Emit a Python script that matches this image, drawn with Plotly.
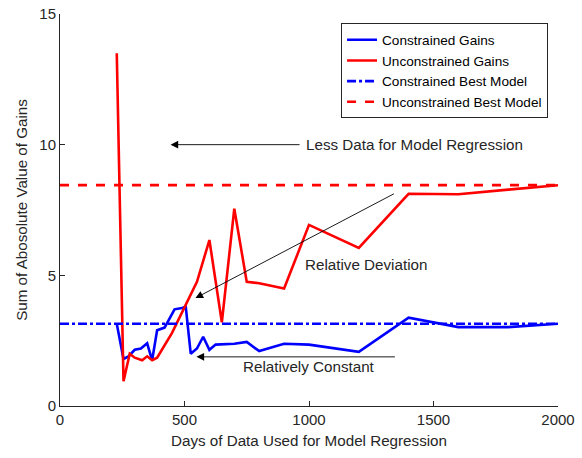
import plotly.graph_objects as go

# Data (days of data used, sum of absolute gains)
days_con = [228, 255, 275, 300, 325, 350, 370, 390, 420, 460, 490, 505, 525, 550, 575, 600, 625, 700, 750, 800, 900, 1000, 1200, 1400, 1600, 1800, 2000]
gain_con = [3.15, 1.8, 1.9, 2.15, 2.2, 2.4, 1.75, 2.9, 3.0, 3.7, 3.75, 3.8, 2.0, 2.2, 2.65, 2.15, 2.35, 2.38, 2.45, 2.1, 2.38, 2.35, 2.07, 3.38, 3.02, 3.02, 3.15]

days_unc = [228, 255, 280, 300, 330, 350, 370, 390, 450, 500, 550, 600, 650, 700, 750, 800, 900, 1000, 1200, 1400, 1600, 1800, 2000]
gain_unc = [13.5, 0.95, 2.0, 1.85, 1.75, 1.9, 1.75, 1.85, 2.8, 3.8, 4.75, 6.35, 3.2, 7.55, 4.75, 4.7, 4.5, 6.93, 6.05, 8.12, 8.1, 8.28, 8.45]

best_x = [0, 2000]
best_con = [3.15, 3.15]
best_unc = [8.45, 8.45]

x_ticks = [0, 500, 1000, 1500, 2000]
y_ticks = [0, 5, 10, 15]

FONT = "Liberation Sans, Arial, sans-serif"
TXT = "#262626"

fig = go.Figure()
fig.add_trace(go.Scatter(x=days_con, y=gain_con, mode="lines", name="Constrained Gains",
                         line=dict(color="#0000ff", width=2.6)))
fig.add_trace(go.Scatter(x=days_unc, y=gain_unc, mode="lines", name="Unconstrained Gains",
                         line=dict(color="#ff0000", width=2.6)))
fig.add_trace(go.Scatter(x=best_x, y=best_con, mode="lines", name="Constrained Best Model",
                         line=dict(color="#0000ff", width=2.6, dash="dashdot")))
fig.add_trace(go.Scatter(x=best_x, y=best_unc, mode="lines", name="Unconstrained Best Model",
                         line=dict(color="#ff0000", width=2.6, dash="dash")))

arrow_common = dict(showarrow=True, arrowhead=2, arrowsize=1.7, arrowwidth=0.9,
                    arrowcolor="black", xref="x", yref="y", axref="x", ayref="y", text="")
# arrows
fig.add_annotation(x=444, y=10.0, ax=968, ay=10.0, **arrow_common)
fig.add_annotation(x=544, y=4.13, ax=1347, ay=8.15, **arrow_common)
fig.add_annotation(x=548, y=1.88, ax=1351, ay=1.88, **arrow_common)

# labels
lab = dict(showarrow=False, xref="x", yref="y", font=dict(family=FONT, size=15.2, color=TXT), xanchor="left")
fig.add_annotation(x=978, y=10.0, text="Less Data for Model Regression", **lab)
fig.add_annotation(x=974, y=5.43, text="Relative Deviation", **lab)
fig.add_annotation(x=726, y=1.5, text="Relatively Constant", **lab)

axis_common = dict(showgrid=False, zeroline=False, showline=True, linecolor=TXT, linewidth=1,
                   ticks="inside", ticklen=5, tickcolor=TXT, ticklabeloverflow="allow",
                   tickfont=dict(family=FONT, size=15, color=TXT), mirror=False)

fig.update_layout(
    width=582, height=458,
    margin=dict(l=60, r=24, t=14, b=52, autoexpand=False),
    paper_bgcolor="white", plot_bgcolor="white",
    font=dict(family=FONT, color=TXT),
    xaxis=dict(range=[0, 2000], tickvals=x_ticks,
               title=dict(text="Days of Data Used for Model Regression", font=dict(family=FONT, size=15.2, color=TXT), standoff=8),
               **axis_common),
    yaxis=dict(range=[0, 15], tickvals=y_ticks,
               title=dict(text="Sum of Abosolute Value of Gains", font=dict(family=FONT, size=15.2, color=TXT), standoff=7),
               **axis_common),
    legend=dict(x=0.98, y=0.976, xanchor="right", yanchor="top",
                bgcolor="white", bordercolor=TXT, borderwidth=1,
                font=dict(family=FONT, size=13.6, color="black"),
                tracegroupgap=0, itemwidth=30),
    showlegend=True,
)

fig.write_html("out.html", config={"displayModeBar": False},
               post_script="document.body.style.margin='0';document.body.style.overflow='hidden';")
